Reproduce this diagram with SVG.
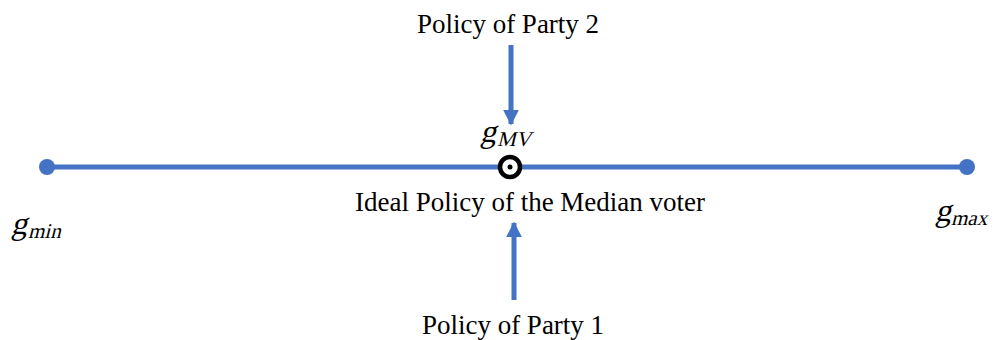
<svg xmlns="http://www.w3.org/2000/svg" width="997" height="340" viewBox="0 0 997 340">
<style>
.lbl{font-family:"Liberation Serif","Times New Roman",serif;font-size:27px;fill:#000}
.m{font-family:"Liberation Serif","Times New Roman",serif;font-style:normal;fill:#000}
.g{font-size:32px}
.s{font-size:21px}
.ln{stroke:#4472C4;stroke-width:5;fill:none}
</style>
<defs>
<marker id="ah" viewBox="0 0 10 10" refX="9" refY="5" markerWidth="3.2" markerHeight="3.2" markerUnits="strokeWidth" orient="auto">
<path d="M0,0 L10,5 L0,10 Z" fill="#4472C4"/>
</marker>
</defs>
<g id="connectors">
<line class="ln" x1="47" y1="167" x2="967" y2="167"/>
<line class="ln" x1="511" y1="45" x2="511" y2="124" marker-end="url(#ah)"/>
<line class="ln" x1="514" y1="300" x2="514" y2="223" marker-end="url(#ah)"/>
</g>
<g id="gmin">
<circle cx="47" cy="167" r="8" fill="#4472C4"/>
<text class="m" transform="translate(11,234) skewX(-14)"><tspan class="g">g</tspan><tspan class="s" dy="4" dx="2">min</tspan></text>
</g>
<g id="gmax">
<circle cx="967" cy="167" r="8" fill="#4472C4"/>
<text class="m" transform="translate(935,221) skewX(-14)"><tspan class="g">g</tspan><tspan class="s" dy="4" dx="1">max</tspan></text>
</g>
<g id="median">
<circle cx="510" cy="167" r="10" fill="#fff" stroke="#000" stroke-width="4.5"/>
<circle cx="510" cy="167" r="2.5" fill="#000"/>
<text class="m" transform="translate(480,142) skewX(-14)"><tspan class="g">g</tspan><tspan class="s" dy="4" dx="2">MV</tspan></text>
<text class="lbl" x="530" y="211" text-anchor="middle">Ideal Policy of the Median voter</text>
</g>
<g id="party2">
<text class="lbl" x="508" y="33" text-anchor="middle">Policy of Party 2</text>
</g>
<g id="party1">
<text class="lbl" x="513" y="334" text-anchor="middle">Policy of Party 1</text>
</g>
</svg>
